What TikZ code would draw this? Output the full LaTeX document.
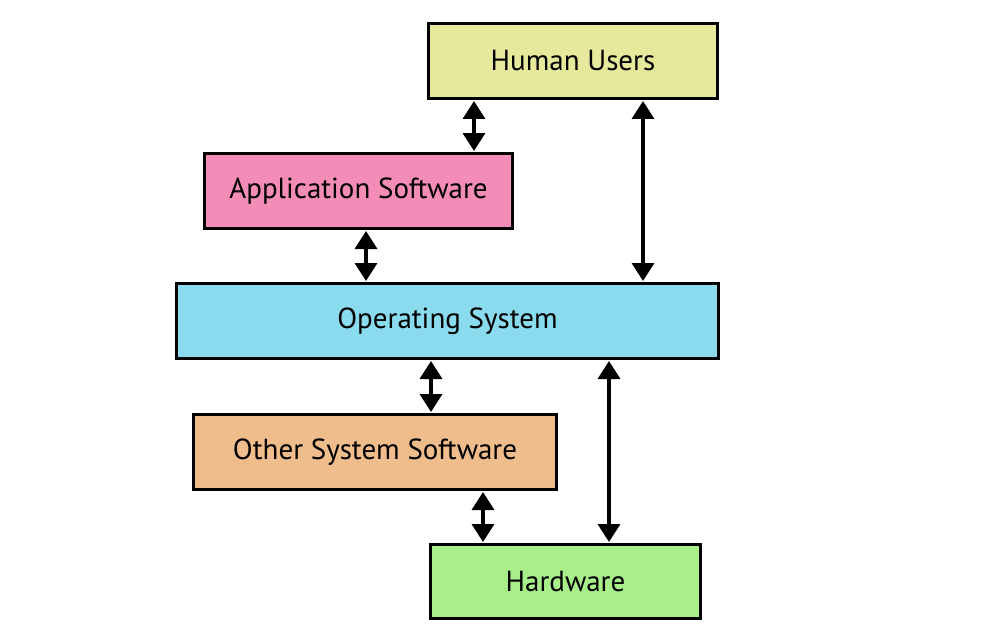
\documentclass[tikz,border=0pt]{standalone}
\usepackage{fontspec}
\setmainfont{PT Sans}
\usetikzlibrary{arrows.meta}
\definecolor{cUser}{HTML}{E6E89B}
\definecolor{cApp}{HTML}{F38CB6}
\definecolor{cOS}{HTML}{89DBED}
\definecolor{cOther}{HTML}{EEBD8B}
\definecolor{cHW}{HTML}{A8EE89}
\tikzset{
  layer/.style={draw=black, line width=3pt, inner sep=0pt, anchor=north west, font=\fontsize{29}{34}\selectfont},
  link/.style={line width=3.5pt, {Triangle[width=22pt,length=18pt]}-{Triangle[width=22pt,length=18pt]}, shorten <=1pt, shorten >=1pt}
}
\begin{document}
\begin{tikzpicture}[x=1pt,y=-1pt]
\useasboundingbox (0,0) rectangle (1005,642);
\node[layer, fill=cUser, minimum width=289pt, minimum height=75pt] (hu) at (427,22) {Human Users};
\node[layer, fill=cApp, minimum width=308pt, minimum height=75pt] (app) at (203,152) {Application Software};
\node[layer, fill=cOS, minimum width=542pt, minimum height=75pt] (os) at (175,282) {Operating System};
\node[layer, fill=cOther, minimum width=363pt, minimum height=75pt] (oth) at (192,413) {Other System Software};
\node[layer, fill=cHW, minimum width=270pt, minimum height=74pt] (hw) at (429,543) {Hardware};
\draw[link] (hu.south -| 474,0) -- (app.north -| 474,0);
\draw[link] (hu.south -| 643,0) -- (os.north -| 643,0);
\draw[link] (app.south -| 366,0) -- (os.north -| 366,0);
\draw[link] (os.south -| 431,0) -- (oth.north -| 431,0);
\draw[link] (oth.south -| 483,0) -- (hw.north -| 483,0);
\draw[link] (os.south -| 609,0) -- (hw.north -| 609,0);
\end{tikzpicture}
\end{document}
